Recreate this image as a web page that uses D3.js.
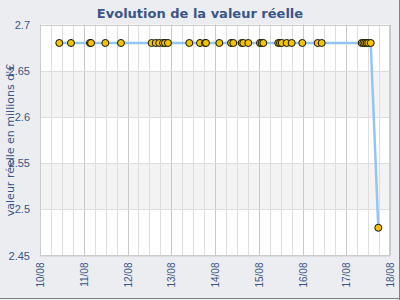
<!DOCTYPE html>
<html>
<head>
<meta charset="utf-8">
<script src="https://cdn.jsdelivr.net/npm/d3@7"></script>
<style>
  html, body { margin: 0; padding: 0; }
  body { width: 400px; height: 300px; overflow: hidden; }
  svg { display: block; font-family: "DejaVu Sans", Verdana, sans-serif; }
</style>
</head>
<body>
<div id="chart"></div>
<script>
const title = "Evolution de la valeur réelle";
const yTitle = "valeur réelle en millions d'€";

// relevés (date, valeur en millions d'€)
const dates = [
  "2008-08-10 10:35", "2008-08-10 17:00", "2008-08-11 03:25", "2008-08-11 04:00",
  "2008-08-11 11:50", "2008-08-11 20:25", "2008-08-12 13:15", "2008-08-12 15:30",
  "2008-08-12 17:25", "2008-08-12 19:28", "2008-08-12 20:35", "2008-08-12 22:13",
  "2008-08-13 09:55", "2008-08-13 15:46", "2008-08-13 18:30", "2008-08-13 19:04",
  "2008-08-14 02:21", "2008-08-14 08:47", "2008-08-14 10:02", "2008-08-14 14:38",
  "2008-08-14 15:31", "2008-08-14 18:16", "2008-08-15 00:41", "2008-08-15 01:37",
  "2008-08-15 02:30", "2008-08-15 10:43", "2008-08-15 11:40", "2008-08-15 12:36",
  "2008-08-15 15:20", "2008-08-15 18:04", "2008-08-15 23:53", "2008-08-16 08:20",
  "2008-08-16 10:32", "2008-08-17 08:28", "2008-08-17 09:22", "2008-08-17 10:18",
  "2008-08-17 11:12", "2008-08-17 12:06", "2008-08-17 13:25", "2008-08-17 17:35"
];
const values = [
  2.68, 2.68, 2.68, 2.68, 2.68, 2.68, 2.68, 2.68, 2.68, 2.68,
  2.68, 2.68, 2.68, 2.68, 2.68, 2.68, 2.68, 2.68, 2.68, 2.68,
  2.68, 2.68, 2.68, 2.68, 2.68, 2.68, 2.68, 2.68, 2.68, 2.68,
  2.68, 2.68, 2.68, 2.68, 2.68, 2.68, 2.68, 2.68, 2.68, 2.48
];
const xDomain = ["2008-08-10 00:00", "2008-08-18 00:00"];
const yTicks = [2.45, 2.5, 2.55, 2.6, 2.65, 2.7];

const parse = d3.timeParse("%Y-%m-%d %H:%M");
const data = dates.map((d, i) => ({ date: parse(d), value: values[i] }));

const width = 400;
const height = 300;
const plot = { left: 40, right: 390, top: 24.5, bottom: 255.5 };
const textColor = "#3a5587";

const svg = d3.select("#chart")
  .append("svg")
  .attr("width", width)
  .attr("height", height);

// fond
svg.append("rect")
  .attr("width", width).attr("height", height)
  .attr("fill", "#ebedf0");
svg.append("line")
  .attr("x1", width - 0.5).attr("x2", width - 0.5)
  .attr("y1", 0).attr("y2", height)
  .attr("stroke", "#7f8184");
svg.append("line")
  .attr("x1", 0).attr("x2", width)
  .attr("y1", height - 1.5).attr("y2", height - 1.5)
  .attr("stroke", "#7f8184");

const x = d3.scaleTime()
  .domain(xDomain.map(parse))
  .range([plot.left, plot.right]);

const y = d3.scaleLinear()
  .domain([d3.min(yTicks), d3.max(yTicks)])
  .range([plot.bottom, plot.top]);

// zone de tracé
svg.append("rect")
  .attr("x", plot.left).attr("y", plot.top)
  .attr("width", plot.right - plot.left).attr("height", plot.bottom - plot.top)
  .attr("fill", "#ffffff");

// bandes alternées
const bands = d3.pairs(yTicks).filter((p, i) => i % 2 === 1);
svg.append("g")
  .selectAll("rect")
  .data(bands)
  .enter()
  .append("rect")
  .attr("x", plot.left)
  .attr("y", (d) => y(d[1]))
  .attr("width", plot.right - plot.left)
  .attr("height", (d) => y(d[0]) - y(d[1]))
  .attr("fill", "#f3f3f3");

// grille verticale (toutes les 6 h, plus foncée chaque jour)
const minor = x.ticks(d3.timeHour.every(6));
svg.append("g")
  .selectAll("line")
  .data(minor)
  .enter()
  .append("line")
  .attr("x1", (d) => Math.round(x(d)) + 0.5)
  .attr("x2", (d) => Math.round(x(d)) + 0.5)
  .attr("y1", plot.top)
  .attr("y2", plot.bottom)
  .attr("stroke", (d) => (d.getHours() === 0 ? "#c9c9c9" : "#dddddd"));

// grille horizontale
svg.append("g")
  .selectAll("line")
  .data(yTicks)
  .enter()
  .append("line")
  .attr("x1", plot.left)
  .attr("x2", plot.right)
  .attr("y1", (d) => Math.round(y(d)) + 0.5)
  .attr("y2", (d) => Math.round(y(d)) + 0.5)
  .attr("stroke", "#dddddd");

svg.append("rect")
  .attr("x", plot.left + 0.5).attr("y", Math.round(plot.top) + 0.5)
  .attr("width", plot.right - plot.left - 1)
  .attr("height", Math.round(plot.bottom - plot.top) - 1)
  .attr("fill", "none")
  .attr("stroke", "#cccccc");

// axe Y
const yAxis = d3.axisLeft(y)
  .tickValues(yTicks)
  .tickSize(0)
  .tickPadding(10)
  .tickFormat((d) => String(+d.toFixed(2)));

svg.append("g")
  .attr("transform", `translate(${plot.left}, 0)`)
  .call(yAxis)
  .call((g) => g.select(".domain").remove())
  .selectAll("text")
  .attr("fill", textColor)
  .style("font-size", "11px");

// axe X
const xAxis = d3.axisBottom(x)
  .ticks(d3.timeDay.every(1))
  .tickSize(0)
  .tickFormat(d3.timeFormat("%d/%m"));

svg.append("g")
  .attr("transform", `translate(0, ${plot.bottom})`)
  .call(xAxis)
  .call((g) => g.select(".domain").remove())
  .selectAll("text")
  .attr("fill", textColor)
  .style("font-size", "10px")
  .attr("text-anchor", "end")
  .attr("dy", "0.35em")
  .attr("transform", "rotate(-90)")
  .attr("x", -7)
  .attr("y", 0);

// titres
svg.append("text")
  .attr("x", width / 2)
  .attr("y", 18)
  .attr("text-anchor", "middle")
  .attr("fill", textColor)
  .style("font-size", "13px")
  .style("font-weight", "bold")
  .text(title);

svg.append("text")
  .attr("transform", `translate(14, ${(plot.top + plot.bottom) / 2}) rotate(-90)`)
  .attr("text-anchor", "middle")
  .attr("fill", textColor)
  .style("font-size", "11px")
  .text(yTitle);

// courbe
const line = d3.line()
  .x((d) => x(d.date))
  .y((d) => y(d.value));

svg.append("path")
  .datum(data)
  .attr("fill", "none")
  .attr("stroke", "#94c5f2")
  .attr("stroke-width", 2.5)
  .attr("d", line);

svg.append("g")
  .selectAll("circle")
  .data(data)
  .enter()
  .append("circle")
  .attr("cx", (d) => x(d.date))
  .attr("cy", (d) => y(d.value))
  .attr("r", 3.5)
  .attr("fill", "#f5c400")
  .attr("stroke", "#111111")
  .attr("stroke-width", 1);
</script>
</body>
</html>
